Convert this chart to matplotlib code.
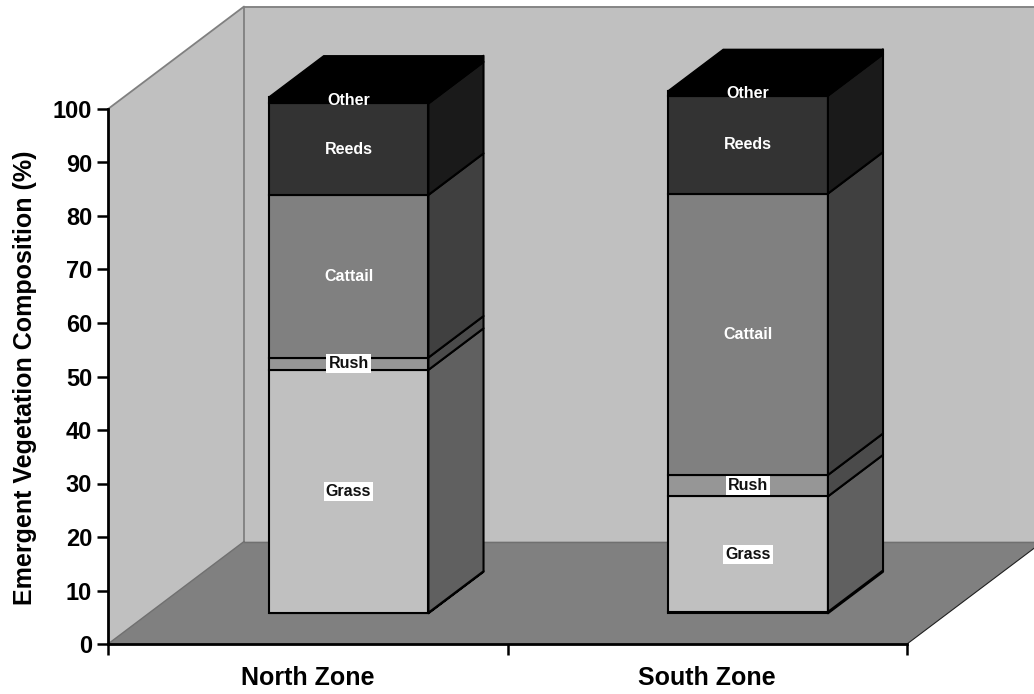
import matplotlib
matplotlib.use("Agg")
import matplotlib.pyplot as plt
from matplotlib.patches import Polygon

plt.rcParams['font.family'] = ['Liberation Sans', 'DejaVu Sans']
plt.rcParams['font.weight'] = 'bold'

zones = ["North Zone", "South Zone"]
layers = ["", "Grass", "Rush", "Cattail", "Reeds", "Other"]
# heights as read on the y axis, bottom layer first
thin_base = [0.1, 0.25]
grass = [45.4, 21.6]
rush = [2.3, 4.0]
cattail = [30.4, 52.6]
reeds = [17.1, 18.3]
other = [1.15, 0.9]
yticks = list(range(0, 101, 10))

series = [thin_base, grass, rush, cattail, reeds, other]
front_cols = ["#c0c0c0", "#c0c0c0", "#969696", "#808080", "#333333", "#000000"]
side_cols = ["#606060", "#606060", "#4b4b4b", "#404040", "#1a1a1a", "#000000"]

# oblique projection: full depth of the box in axis units
depth_x = 0.3404
depth_y = 19.15
d_front = 0.3
d_back = 0.705
bar_w = 0.4

fig = plt.figure(figsize=(10.34, 6.94), dpi=100)
ax = fig.add_axes([108 / 1034, 50 / 694, 799 / 1034, 535 / 694])
ax.set_xlim(0, 2)
ax.set_ylim(0, 100)
ax.patch.set_visible(False)


def poly(points, **kw):
    p = Polygon(points, closed=True, clip_on=False, **kw)
    ax.add_patch(p)


# walls and floor
poly([(0, 0), (depth_x, depth_y), (2 + depth_x, depth_y), (2 + depth_x, 100 + depth_y),
      (depth_x, 100 + depth_y), (0, 100)], fc="#c0c0c0", ec="none", zorder=0)
poly([(0, 0), (depth_x, depth_y), (2 + depth_x, depth_y), (2, 0)], fc="#808080", ec="none", zorder=1)
ax.plot([0, depth_x, depth_x], [100, 100 + depth_y, depth_y], color="#808080", lw=1.3, clip_on=False, zorder=1)
ax.plot([depth_x, 2 + depth_x], [100 + depth_y] * 2, color="#808080", lw=1.3, clip_on=False, zorder=1)
ax.plot([depth_x, 2 + depth_x], [depth_y] * 2, color="#707070", lw=1.0, clip_on=False, zorder=1)
ax.plot([0, depth_x], [0, depth_y], color="#707070", lw=1.0, clip_on=False, zorder=1)
ax.plot([2, 2 + depth_x], [0, depth_y], color="#202020", lw=0.8, clip_on=False, zorder=1)

# stacked boxes
for i, zone in enumerate(zones):
    left = i + 0.5 - bar_w / 2 + d_front * depth_x
    right = left + bar_w
    off_x = (d_back - d_front) * depth_x
    off_y = (d_back - d_front) * depth_y
    y = d_front * depth_y
    for k, vals in enumerate(series):
        h = vals[i]
        ax.bar(left, h, bar_w, bottom=y, align="edge", color=front_cols[k],
               edgecolor="black", linewidth=1.5, clip_on=False, zorder=3)
        poly([(right, y), (right + off_x, y + off_y), (right + off_x, y + h + off_y), (right, y + h)],
             fc=side_cols[k], ec="black", lw=1.5, zorder=3, joinstyle="round")
        if layers[k]:
            mid = y + h / 2
            if layers[k] in ("Grass", "Rush"):
                ax.text(left + bar_w / 2, mid, layers[k], ha="center", va="center", fontsize=11.5,
                        color="#111111", zorder=5, bbox=dict(fc="white", ec="none", pad=1.5))
            else:
                ax.text(left + bar_w / 2, mid, layers[k], ha="center", va="center", fontsize=11.5,
                        color="white", zorder=5)
        y += h
    poly([(left, y), (left + off_x, y + off_y), (right + off_x, y + off_y), (right, y)],
         fc="black", ec="black", lw=1.0, zorder=3)

# axes
for s in ("top", "right"):
    ax.spines[s].set_visible(False)
for s in ("left", "bottom"):
    ax.spines[s].set_linewidth(2.0)
    ax.spines[s].set_zorder(4)
ax.set_yticks(yticks)
ax.tick_params(axis="y", length=8, width=1.8, labelsize=17, pad=3.5)
ax.set_xticks([0, 1, 2], ["", "", ""])
ax.tick_params(axis="x", which="major", length=8, width=1.8)
ax.set_xticks([0.5, 1.5], zones, minor=True)
ax.tick_params(axis="x", which="minor", length=0, labelsize=18, pad=15.5)
ax.set_ylabel("Emergent Vegetation Composition (%)", fontsize=18, fontweight="bold")
ax.yaxis.set_label_coords(-71 / 799, 0.498)

fig.savefig("out.png", dpi=100)
